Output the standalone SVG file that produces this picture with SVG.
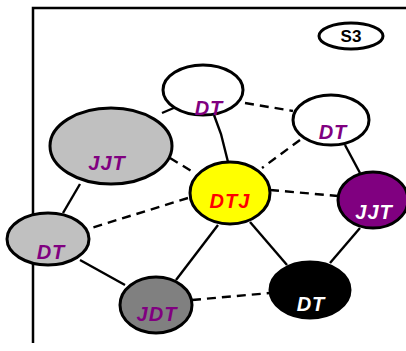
<svg xmlns="http://www.w3.org/2000/svg" width="406" height="351" viewBox="0 0 406 351">
<style>
.node{stroke:#000;stroke-width:3}
.lbl{font-family:"Liberation Sans",Arial,sans-serif;font-weight:bold;font-style:italic;font-size:20px;text-anchor:middle;letter-spacing:1px}
.edge{stroke:#000;stroke-width:2.4;fill:none}
.dash{stroke-dasharray:9 6}
</style>
<rect width="406" height="351" fill="#fff"/>
<g id="frame">
<path d="M33,343 V8 H406" fill="none" stroke="#000" stroke-width="2.5"/>
</g>
<g id="connectors">
<path class="edge" d="M214,115 L221,134 L228,162"/>
<path class="edge dash" d="M245,103 L293,111"/>
<path class="edge" d="M162,113 L176,107"/>
<path class="edge dash" d="M300,140 L262,168"/>
<path class="edge" d="M345,145 L360,173"/>
<path class="edge dash" d="M170,158 L193,172"/>
<path class="edge" d="M80,184 L63,213"/>
<path class="edge dash" d="M188,198 L88,229"/>
<path class="edge dash" d="M270,190 L338,196"/>
<path class="edge" d="M218,225 L176,280"/>
<path class="edge" d="M250,222 L287,265"/>
<path class="edge" d="M360,228 L330,263"/>
<path class="edge" d="M80,260 L125,285"/>
<path class="edge dash" d="M192,300 L270,293"/>
</g>
<g id="s3">
<ellipse class="node" cx="351" cy="36" rx="32" ry="13" fill="#fff"/>
<text x="351" y="42" font-family="Liberation Sans,Arial,sans-serif" font-weight="bold" font-size="17" text-anchor="middle">S3</text>
</g>
<g id="n_top">
<ellipse class="node" cx="203" cy="90" rx="40" ry="25" fill="#fff"/>
<text class="lbl" x="209" y="115" fill="#800080">DT</text>
</g>
<g id="n_topright">
<ellipse class="node" cx="331" cy="120" rx="38" ry="25" fill="#fff"/>
<text class="lbl" x="333" y="139" fill="#800080">DT</text>
</g>
<g id="n_gray_big">
<ellipse class="node" cx="111" cy="146" rx="61" ry="38" fill="#c0c0c0"/>
<text class="lbl" x="107" y="170" fill="#800080">JJT</text>
</g>
<g id="n_center">
<ellipse class="node" cx="230" cy="193" rx="40" ry="31" fill="#ffff00"/>
<text class="lbl" x="230" y="208" fill="#ff0000">DTJ</text>
</g>
<g id="n_purple">
<ellipse class="node" cx="373" cy="200" rx="35" ry="28" fill="#800080"/>
<text class="lbl" x="374" y="219" fill="#fff">JJT</text>
</g>
<g id="n_lightgray">
<ellipse class="node" cx="48" cy="239" rx="41" ry="26" fill="#c0c0c0"/>
<text class="lbl" x="51" y="259" fill="#800080">DT</text>
</g>
<g id="n_gray_mid">
<ellipse class="node" cx="156" cy="305" rx="36" ry="28" fill="#808080"/>
<text class="lbl" x="157" y="321" fill="#800080">JDT</text>
</g>
<g id="n_black">
<ellipse class="node" cx="310" cy="290" rx="40" ry="28" fill="#000"/>
<text class="lbl" x="311" y="311" fill="#fff">DT</text>
</g>
</svg>
